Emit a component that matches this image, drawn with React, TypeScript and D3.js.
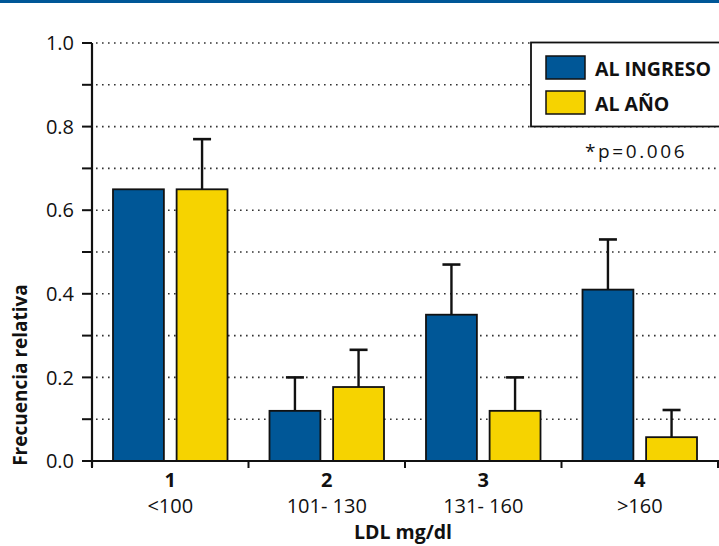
import React from "react";
import * as d3 from "d3";

const categories = ["1", "2", "3", "4"];
const rangeLabels = ["<100", "101- 130", "131- 160", ">160"];
const series = ["AL INGRESO", "AL AÑO"];
const ingresoValues = [0.65, 0.12, 0.35, 0.41];
const ingresoErrors = [0.65, 0.2, 0.47, 0.53];
const anoValues = [0.65, 0.177, 0.12, 0.057];
const anoErrors = [0.77, 0.266, 0.2, 0.122];
const yTicks = [0, 0.1, 0.2, 0.3, 0.4, 0.5, 0.6, 0.7, 0.8, 0.9, 1.0];
const yLabels = [0, 0.2, 0.4, 0.6, 0.8, 1.0];
const colors = ["#005797", "#f6d300"];

const W = 719;
const H = 546;
const FONT = "'Open Sans', 'Noto Sans', sans-serif";

export default function App() {
  const x0 = 92;
  const x1 = 718;
  const y = d3.scaleLinear().domain([0, 1]).range([461, 43]);
  const xBand = d3.scaleBand().domain(categories).range([x0, x1]).padding(0);
  const xInner = d3
    .scaleBand()
    .domain(series)
    .range([0, xBand.bandwidth()])
    .paddingInner(0.2)
    .paddingOuter(0.33);

  const values = [ingresoValues, anoValues];
  const errors = [ingresoErrors, anoErrors];

  return (
    <div style={{ position: "absolute", left: 0, top: 0, width: W, height: H, overflow: "hidden" }}>
      <svg width={W} height={H} style={{ display: "block", background: "#fff" }} fontFamily={FONT}>
        <rect x={0} y={0} width={W} height={3} fill="#005797" />

        {/* gridlines */}
        {yTicks
          .filter((t) => t > 0)
          .map((t) => (
            <line
              key={"g" + t}
              x1={x0 + 4}
              x2={x1}
              y1={y(t)}
              y2={y(t)}
              stroke="#333"
              strokeWidth={1.6}
              strokeDasharray="1.6,4.4"
            />
          ))}

        {/* legend box */}
        <rect x={531} y={42.5} width={210} height={84} fill="#fff" stroke="#111" strokeWidth={1.8} />
        {series.map((s, i) => (
          <g key={s}>
            <rect
              x={546}
              y={56 + i * 35}
              width={39}
              height={23}
              fill={colors[i]}
              stroke="#111"
              strokeWidth={1.5}
            />
            <text x={595} y={75.5 + i * 35} fontSize={19.5} fontWeight="bold" fill="#111">
              {s}
            </text>
          </g>
        ))}
        <text x={585} y={158} fontSize={19} fill="#111" letterSpacing={2.6}>
          *p=0.006
        </text>

        {/* bars */}
        {categories.map((c, ci) =>
          series.map((s, si) => {
            const bx = (xBand(c) as number) + (xInner(s) as number);
            const bw = xInner.bandwidth();
            const v = values[si][ci];
            const e = errors[si][ci];
            const cx = bx + bw / 2;
            return (
              <g key={c + s}>
                {e > v && (
                  <>
                    <line x1={cx} x2={cx} y1={y(v)} y2={y(e)} stroke="#111" strokeWidth={2.4} />
                    <line x1={cx - 9} x2={cx + 9} y1={y(e)} y2={y(e)} stroke="#111" strokeWidth={2.6} />
                  </>
                )}
                <rect
                  x={bx}
                  y={y(v)}
                  width={bw}
                  height={y(0) - y(v)}
                  fill={colors[si]}
                  stroke="#111"
                  strokeWidth={1.8}
                />
              </g>
            );
          })
        )}

        {/* y axis */}
        <line x1={x0} x2={x0} y1={y(1)} y2={y(0) + 6} stroke="#111" strokeWidth={2.2} />
        {yTicks.map((t) => (
          <line key={"t" + t} x1={x0 - 10} x2={x0} y1={y(t)} y2={y(t)} stroke="#111" strokeWidth={2} />
        ))}
        {yLabels.map((t) => (
          <text
            key={"l" + t}
            x={74}
            y={y(t)}
            dy="0.36em"
            textAnchor="end"
            fontSize={20}
            fill="#111"
          >
            {d3.format(".1f")(t)}
          </text>
        ))}
        <text
          transform={`translate(27,${375}) rotate(-90)`}
          textAnchor="middle"
          fontSize={19}
          fontWeight="bold"
          fill="#111"
        >
          Frecuencia relativa
        </text>

        {/* x axis */}
        <line x1={x0} x2={x1 + 2} y1={y(0)} y2={y(0)} stroke="#111" strokeWidth={2} />
        {[...categories.map((c) => xBand(c) as number), x1].map((tx, i) => (
          <line key={"xt" + i} x1={tx} x2={tx} y1={y(0)} y2={y(0) + 7} stroke="#111" strokeWidth={2} />
        ))}
        {categories.map((c, i) => {
          const cx = (xBand(c) as number) + xBand.bandwidth() / 2;
          return (
            <g key={"xl" + c}>
              <text x={cx} y={487} textAnchor="middle" fontSize={20} fontWeight="bold" fill="#111">
                {c}
              </text>
              <text x={cx} y={513} textAnchor="middle" fontSize={20} fill="#111">
                {rangeLabels[i]}
              </text>
            </g>
          );
        })}
        <text x={403} y={539} textAnchor="middle" fontSize={19.5} fontWeight="bold" fill="#111">
          LDL mg/dl
        </text>
      </svg>
    </div>
  );
}
